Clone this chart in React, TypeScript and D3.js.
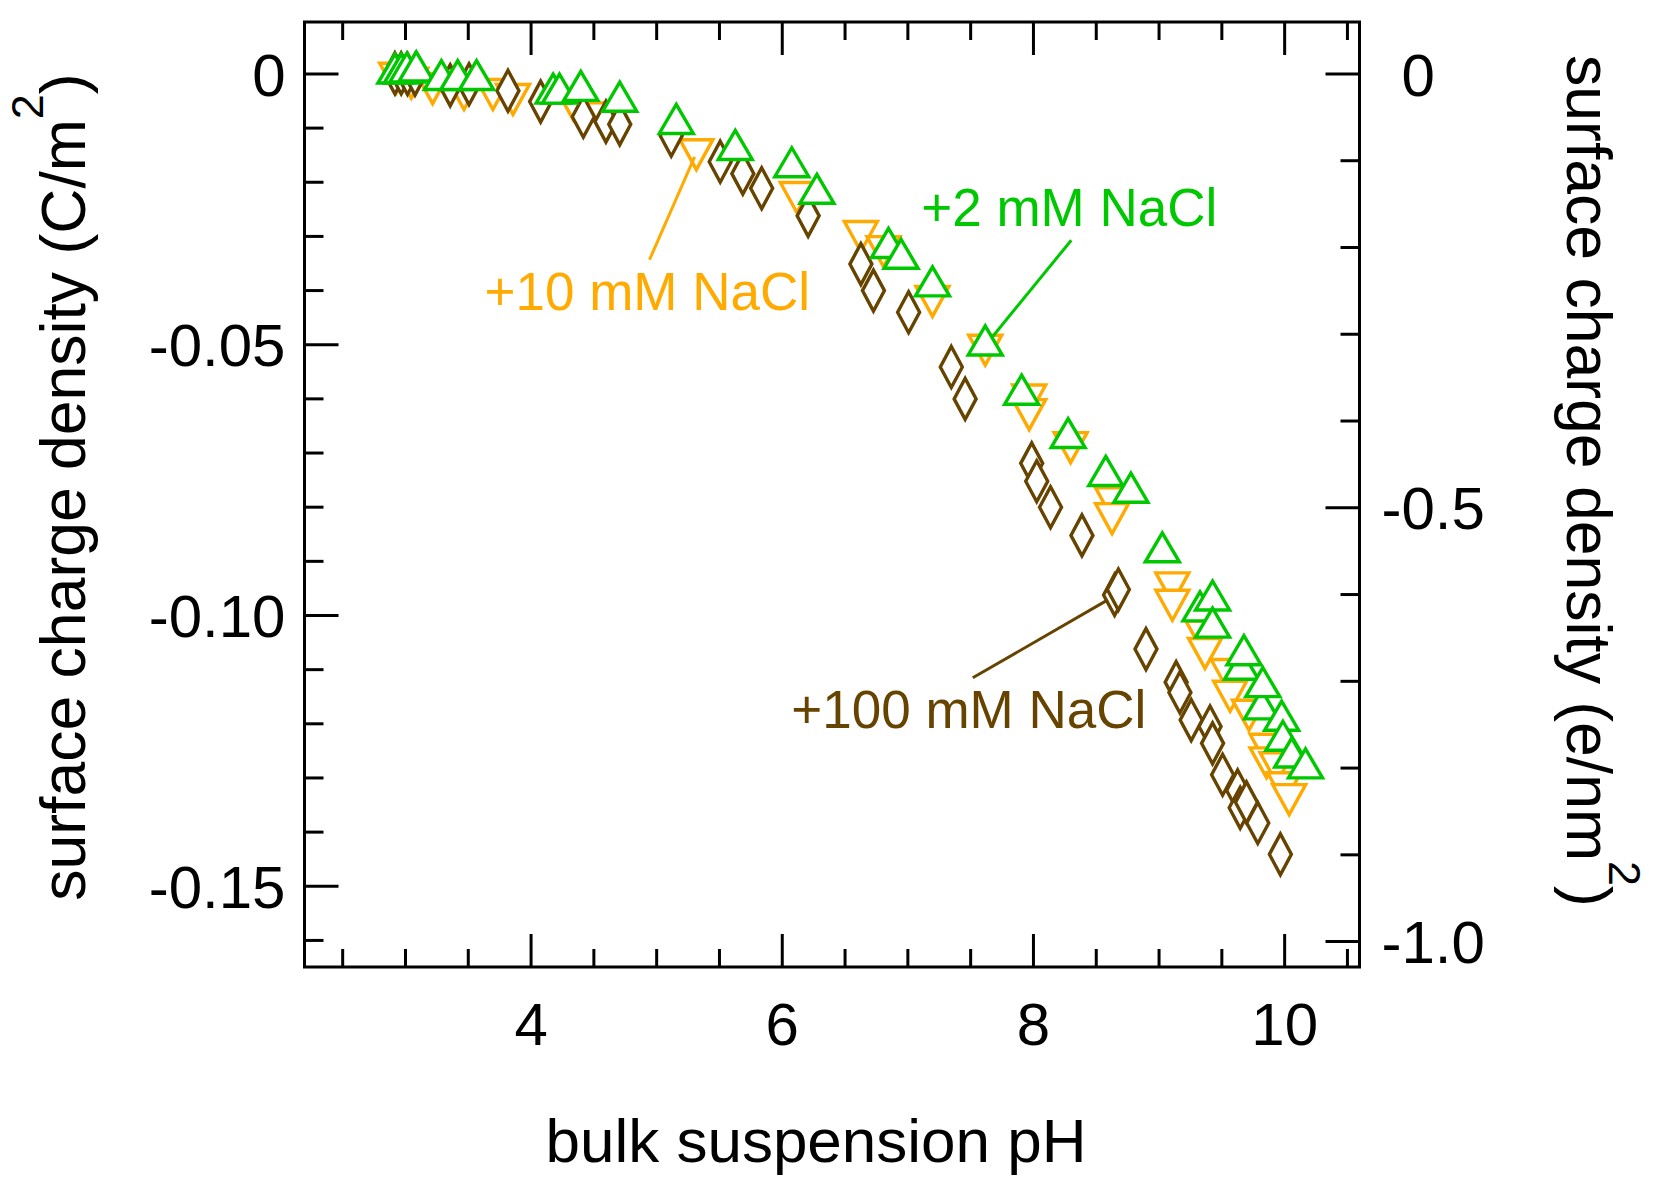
import * as d3 from 'd3';
import { useEffect, useRef } from 'react';

// +10 mM NaCl (down triangles)
const phOrange = [2.93, 3.05, 3.22, 3.47, 3.7, 3.86, 4.34, 4.58, 5.32, 6.12, 6.63, 6.81, 7.2, 7.62, 7.97, 7.97, 8.3, 8.63, 8.63, 9.11, 9.11, 9.35, 9.37, 9.55, 9.57, 9.72, 9.86, 9.86, 9.94, 10.0, 10.04];
const sigmaOrange = [-0.0009, -0.0018, -0.0028, -0.0039, -0.0039, -0.0048, -0.0058, -0.0082, -0.015, -0.0229, -0.0301, -0.0329, -0.0421, -0.0511, -0.0603, -0.063, -0.0691, -0.0793, -0.0822, -0.095, -0.0982, -0.1039, -0.1071, -0.111, -0.115, -0.1185, -0.1248, -0.1273, -0.1282, -0.1319, -0.1341];

// +100 mM NaCl (diamonds)
const phBrown = [2.92, 2.97, 3.02, 3.08, 3.36, 3.51, 3.82, 4.08, 4.42, 4.6, 4.71, 5.12, 5.51, 5.69, 5.84, 6.21, 6.63, 6.73, 7.01, 7.35, 7.46, 7.99, 8.03, 8.14, 8.39, 8.65, 8.68, 8.9, 9.14, 9.17, 9.26, 9.41, 9.43, 9.51, 9.63, 9.65, 9.7, 9.79, 9.97];
const sigmaBrown = [0.0, 0.0, -0.0001, -0.0002, -0.0022, -0.002, -0.0032, -0.0052, -0.008, -0.0089, -0.0094, -0.0115, -0.0163, -0.0185, -0.0212, -0.0263, -0.0352, -0.0401, -0.0441, -0.0542, -0.0601, -0.072, -0.0753, -0.0801, -0.0853, -0.0963, -0.0953, -0.1063, -0.1124, -0.1143, -0.1194, -0.1206, -0.1237, -0.1295, -0.1324, -0.1356, -0.1346, -0.1384, -0.1442];

// +2 mM NaCl (up triangles)
const phGreen = [2.92, 2.97, 3.015, 3.09, 3.29, 3.42, 3.57, 4.18, 4.23, 4.4, 4.71, 5.16, 5.63, 6.08, 6.28, 6.85, 6.95, 7.2, 7.62, 7.91, 8.28, 8.58, 8.78, 9.03, 9.33, 9.43, 9.43, 9.66, 9.68, 9.82, 9.83, 9.98, 9.99, 10.06, 10.17];
const sigmaGreen = [0.0009, 0.0009, 0.0011, 0.0013, -0.0003, -0.0003, -0.0003, -0.0028, -0.0028, -0.0023, -0.0043, -0.0084, -0.0132, -0.0164, -0.0213, -0.0313, -0.0333, -0.0384, -0.0493, -0.0584, -0.0664, -0.0734, -0.0765, -0.0875, -0.0984, -0.0964, -0.1014, -0.1092, -0.1065, -0.1165, -0.1124, -0.1186, -0.1223, -0.1254, -0.1274];

const xMajor = [4, 6, 8, 10];
const xMinor = [2.5, 3, 3.5, 4.5, 5, 5.5, 6.5, 7, 7.5, 8.5, 9, 9.5, 10.5];
const yLeftMajor = [0, -0.05, -0.1, -0.15];
const yLeftLabels = ['0', '-0.05', '-0.10', '-0.15'];
const yLeftMinor = [-0.01, -0.02, -0.03, -0.04, -0.06, -0.07, -0.08, -0.09, -0.11, -0.12, -0.13, -0.14, -0.16];
const yRightMajor = [0, -0.5, -1.0];
const yRightLabels = ['0', '-0.5', '-1.0'];
const yRightMinor = [-0.1, -0.2, -0.3, -0.4, -0.6, -0.7, -0.8, -0.9];

const C_PER_E_NM2 = 0.16022;

const ORANGE = '#ffaa00';
const BROWN = '#664400';
const GREEN = '#00c800';
const FONT = '"Liberation Sans", Arial, Helvetica, sans-serif';

export default function App() {
  const ref = useRef<SVGSVGElement | null>(null);

  useEffect(() => {
    const svg = d3.select(ref.current);
    svg.selectAll('*').remove();
    const left = 304.5, right = 1359.5, top = 22, bottom = 967;

    const x = d3.scaleLinear().domain([2.2, 10.6]).range([left, right]);
    const y = d3.scaleLinear().domain([-0.165, 0.0095]).range([bottom, top]);
    const yR = d3.scaleLinear().domain(y.domain().map((v) => v / C_PER_E_NM2)).range([bottom, top]);

    svg.append('rect').attr('width', 1665).attr('height', 1190).attr('fill', '#fff');

    const styleAxis = (g: d3.Selection<SVGGElement, unknown, null, undefined>) => {
      g.select('.domain').remove();
      g.selectAll('line').attr('stroke', '#000').attr('stroke-width', 3);
      g.selectAll('text').attr('font-family', FONT).attr('font-size', 60).attr('fill', '#000');
    };

    // bottom
    svg.append('g').attr('transform', `translate(0,${bottom})`)
      .call(d3.axisBottom(x).tickValues(xMinor).tickSize(-18).tickFormat(() => '')).call(styleAxis);
    svg.append('g').attr('transform', `translate(0,${bottom})`)
      .call(d3.axisBottom(x).tickValues(xMajor).tickSize(-33).tickPadding(35).tickFormat(d3.format('d'))).call(styleAxis);
    // top
    svg.append('g').attr('transform', `translate(0,${top})`)
      .call(d3.axisTop(x).tickValues(xMinor).tickSize(-18).tickFormat(() => '')).call(styleAxis);
    svg.append('g').attr('transform', `translate(0,${top})`)
      .call(d3.axisTop(x).tickValues(xMajor).tickSize(-33).tickFormat(() => '')).call(styleAxis);
    // left
    svg.append('g').attr('transform', `translate(${left},0)`)
      .call(d3.axisLeft(y).tickValues(yLeftMinor).tickSize(-19).tickFormat(() => '')).call(styleAxis);
    const gl = svg.append('g').attr('transform', `translate(${left},0)`)
      .call(d3.axisLeft(y).tickValues(yLeftMajor).tickSize(-34).tickPadding(19)
        .tickFormat((_d, i) => yLeftLabels[i])).call(styleAxis);
    gl.selectAll('text').attr('dy', '0.36em');
    // right
    svg.append('g').attr('transform', `translate(${right},0)`)
      .call(d3.axisRight(yR).tickValues(yRightMinor).tickSize(-19).tickFormat(() => '')).call(styleAxis);
    const gr = svg.append('g').attr('transform', `translate(${right},0)`)
      .call(d3.axisRight(yR).tickValues(yRightMajor).tickSize(-34).tickPadding(22)
        .tickFormat((_d, i) => yRightLabels[i])).call(styleAxis);
    gr.selectAll('text').attr('dy', '0.36em').attr('dx', (_d, i) => (yRightLabels[i].startsWith('-') ? 0 : 20));

    svg.append('rect')
      .attr('x', left).attr('y', top).attr('width', right - left).attr('height', bottom - top)
      .attr('fill', 'none').attr('stroke', '#000').attr('stroke-width', 3);

    const series = [
      { ph: phOrange, sigma: sigmaOrange, color: ORANGE, path: 'M-16.5,-15L16.5,-15L0,15Z' },
      { ph: phBrown, sigma: sigmaBrown, color: BROWN, path: 'M0,-20.5L11,0L0,20.5L-11,0Z' },
      { ph: phGreen, sigma: sigmaGreen, color: GREEN, path: 'M0,-14.5L17,14.5L-17,14.5Z' }
    ];

    series.forEach((s) => {
      svg.append('g').selectAll('path')
        .data(s.ph.map((p, i) => ({ p, v: s.sigma[i] })))
        .enter()
        .append('path')
        .attr('d', s.path)
        .attr('transform', (d) => `translate(${x(d.p)},${y(d.v)})`)
        .attr('fill', '#fff')
        .attr('stroke', s.color)
        .attr('stroke-width', 3.4);
    });

    // annotations
    const notes = [
      { text: '+10 mM NaCl', color: ORANGE, tx: 3.634, ty: -0.04367, line: [[4.947, -0.0344], [5.306, -0.0154]] },
      { text: '+2 mM NaCl', color: GREEN, tx: 7.111, ty: -0.02817, line: [[8.305, -0.0308], [7.668, -0.0489]] },
      { text: '+100 mM NaCl', color: BROWN, tx: 6.076, ty: -0.12085, line: [[7.521, -0.1116], [8.596, -0.0972]] }
    ];
    notes.forEach((n) => {
      svg.append('line')
        .attr('x1', x(n.line[0][0])).attr('y1', y(n.line[0][1]))
        .attr('x2', x(n.line[1][0])).attr('y2', y(n.line[1][1]))
        .attr('stroke', n.color).attr('stroke-width', 3);
      svg.append('text')
        .attr('x', x(n.tx)).attr('y', y(n.ty))
        .attr('font-family', FONT).attr('font-size', 53).attr('fill', n.color)
        .text(n.text);
    });

    // axis titles
    svg.append('text')
      .attr('x', 816).attr('y', 1162)
      .attr('text-anchor', 'middle').attr('font-family', FONT).attr('font-size', 62)
      .text('bulk suspension pH');

    const lt = svg.append('text')
      .attr('transform', 'translate(85,487) rotate(-90)')
      .attr('text-anchor', 'middle').attr('font-family', FONT).attr('font-size', 62.5);
    lt.append('tspan').text('surface charge density (C/m');
    lt.append('tspan').attr('font-size', 45).attr('dy', -42).text('2');
    lt.append('tspan').attr('dy', 42).text(')');

    const rt = svg.append('text')
      .attr('transform', 'translate(1567,481) rotate(90)')
      .attr('text-anchor', 'middle').attr('font-family', FONT).attr('font-size', 62.5);
    rt.append('tspan').text('surface charge density (e/nm');
    rt.append('tspan').attr('font-size', 45).attr('dy', -42).text('2');
    rt.append('tspan').attr('dy', 42).text(')');
  }, []);

  return (
    <svg ref={ref} width={1665} height={1190} style={{ position: 'absolute', left: 0, top: 0 }}
      role="img" aria-label="Surface charge density versus bulk suspension pH" />
  );
}
